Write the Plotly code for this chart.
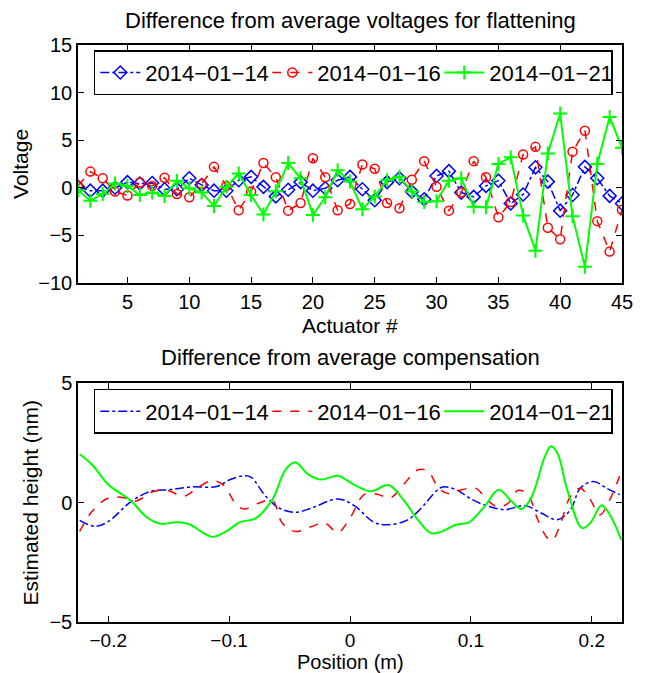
import plotly.graph_objects as go

# ---------------- data: top panel (voltages) ----------------
actuators = list(range(1, 46))
v_0114 = [0.1, -0.3, -0.3, 0.0, 0.6, 0.45, 0.5, -0.15, -0.15, 1.0,
          0.3, -0.3, -0.3, 0.8, 1.15, 0.1, -0.9, -0.2, 0.6, -0.3,
          -0.05, 0.8, 1.15, -0.15, -1.3, 0.6, 1.0, -0.4, -1.2, 1.25,
          1.75, -0.5, -0.95, 0.2, 0.75, -1.65, -0.7, 2.15, 0.65, -2.4,
          -0.75, 2.2, 1.0, -0.85, -1.65]
v_0116 = [0.2, 1.7, 1.0, -0.4, -0.8, 0.55, 0.2, 1.05, -0.65, -1.0,
          0.4, 2.2, 0.2, -2.35, -0.4, 2.6, 1.1, -2.4, -1.6, 3.1,
          1.1, -2.35, -1.7, 2.45, 2.0, -1.6, -2.15, 0.85, 2.8, 0.1,
          -2.4, -0.5, 2.8, 1.1, -3.1, -1.5, 3.5, 4.3, -4.2, -5.4,
          3.8, 6.0, -3.5, -6.7, -2.3]
v_0121 = [-0.25, -1.35, -0.65, 0.45, 0.2, -0.75, -0.5, -0.85, 0.75, -0.05,
          -0.5, -1.9, 0.1, 1.5, -0.75, -2.8, -0.35, 2.6, 1.0, -2.85,
          -1.0, 1.85, 0.65, -2.25, -0.9, 0.8, 1.15, -0.4, -1.5, -1.4,
          0.75, 1.0, -2.0, -2.05, 2.5, 3.2, -2.9, -6.6, 3.6, 7.8,
          -3.0, -8.3, 2.5, 7.45, 4.2]

# ---------------- data: bottom panel (compensation) ----------------
pos_0114 = [-0.2236, -0.2106, -0.1998, -0.1808, -0.1646, -0.1484, -0.1321, -0.1104,
            -0.0995, -0.0873, -0.0819, -0.0697, -0.0588, -0.0453, -0.0317, -0.01,
            0.0035, 0.0198, 0.0306, 0.0469, 0.0577, 0.0712, 0.0767, 0.0875,
            0.1011, 0.1146, 0.1282, 0.1445, 0.1581, 0.1716, 0.1824, 0.1905,
            0.2014, 0.2122, 0.223]
h_0114 = [-0.75, -1.0, -0.79, 0.05, 0.47, 0.54, 0.65, 0.67,
          0.95, 1.12, 1.06, 0.26, -0.23, -0.41, -0.23, 0.15,
          -0.13, -0.83, -0.93, -0.75, -0.3, 0.47, 0.65, 0.54,
          0.12, -0.16, -0.3, -0.13, -0.44, -0.72, -0.3, 0.6,
          0.88, 0.6, 0.33]
pos_0116 = [-0.2236, -0.2133, -0.1998, -0.1862, -0.178, -0.1618, -0.151, -0.1374,
            -0.1266, -0.1144, -0.1049, -0.094, -0.0873, -0.0751, -0.0642, -0.0561,
            -0.0453, -0.0317, -0.0209, -0.01, 0.0008, 0.0116, 0.0225, 0.0333,
            0.0441, 0.0563, 0.0645, 0.0739, 0.082, 0.0929, 0.1038, 0.1146,
            0.1228, 0.131, 0.1391, 0.1472, 0.1553, 0.1634, 0.1675, 0.1743,
            0.1824, 0.1905, 0.1987, 0.2068, 0.2149, 0.223]
h_0116 = [-1.21, -0.37, 0.19, 0.19, 0.05, 0.47, 0.51, 0.26,
          0.6, 0.91, 0.74, -0.09, -0.27, -0.02, 0.09, -0.86,
          -1.21, -1.0, -0.86, -1.25, -0.58, 0.33, 0.35, 0.19,
          0.74, 1.37, 1.31, 0.56, 0.37, 0.54, 0.6, 0.05,
          -0.19, -0.02, 0.51, 0.33, -0.72, -1.49, -1.58, -0.86,
          0.26, 0.6, 0.12, -0.51, 0.12, 1.1]
pos_0121 = [-0.2236, -0.2133, -0.1998, -0.1862, -0.1808, -0.1673, -0.1564, -0.143,
            -0.132, -0.1212, -0.1136, -0.1022, -0.0914, -0.0778, -0.0642, -0.0534,
            -0.0453, -0.0344, -0.0236, -0.01, 0.0035, 0.0171, 0.0319, 0.0441,
            0.055, 0.0671, 0.0766, 0.0875, 0.0984, 0.1119, 0.1228, 0.1336,
            0.1417, 0.1499, 0.1607, 0.1661, 0.1715, 0.1797, 0.1919, 0.1987,
            0.2081, 0.2149, 0.2244]
h_0121 = [2.02, 1.58, 0.74, 0.26, 0.05, -0.65, -0.89, -0.83,
          -0.93, -1.28, -1.44, -1.2, -0.83, -0.65, 0.12, 1.37,
          1.68, 1.17, 0.96, 1.12, 0.74, 0.47, 0.73, 0.12,
          -0.65, -1.28, -1.2, -0.93, -0.83, -0.13, 0.53, 0.05,
          -0.27, 0.19, 1.86, 2.35, 2.07, 0.53, -1.07, -0.86,
          -0.12, -0.51, -1.56]

names = ["2014\u221201\u221214", "2014\u221201\u221216", "2014\u221201\u221221"]
BLUE, RED, GREEN = "#0000ff", "#ff0000", "#00ff00"
FONT = "Liberation Sans, Arial, Helvetica, sans-serif"
FS = 22      # titles / legend
FS_TICK = 20
FS_LAB = 21

fig = go.Figure()

# top panel
fig.add_trace(go.Scatter(x=actuators, y=v_0114, name=names[0], mode="lines+markers",
                         line=dict(color=BLUE, width=1.5, dash="dashdot"),
                         marker=dict(symbol="diamond-open", size=10, color=BLUE, line=dict(width=1.5)),
                         xaxis="x", yaxis="y", legend="legend"))
fig.add_trace(go.Scatter(x=actuators, y=v_0116, name=names[1], mode="lines+markers",
                         line=dict(color=RED, width=1.5, dash="dash"),
                         marker=dict(symbol="circle-open", size=9, color=RED, line=dict(width=1.5)),
                         xaxis="x", yaxis="y", legend="legend"))
fig.add_trace(go.Scatter(x=actuators, y=v_0121, name=names[2], mode="lines+markers",
                         line=dict(color=GREEN, width=2),
                         marker=dict(symbol="cross-thin-open", size=10, color=GREEN, line=dict(width=2, color=GREEN)),
                         xaxis="x", yaxis="y", legend="legend"))

# bottom panel
fig.add_trace(go.Scatter(x=pos_0114, y=h_0114, name=names[0], mode="lines",
                         line=dict(color=BLUE, width=1.5, dash="dashdot", shape="spline", smoothing=1.0),
                         xaxis="x2", yaxis="y2", legend="legend2"))
fig.add_trace(go.Scatter(x=pos_0116, y=h_0116, name=names[1], mode="lines",
                         line=dict(color=RED, width=1.5, dash="dash", shape="spline", smoothing=1.0),
                         xaxis="x2", yaxis="y2", legend="legend2"))
fig.add_trace(go.Scatter(x=pos_0121, y=h_0121, name=names[2], mode="lines",
                         line=dict(color=GREEN, width=2, shape="spline", smoothing=1.0),
                         xaxis="x2", yaxis="y2", legend="legend2"))

def axis_common(tick_size):
    return dict(showline=True, linecolor="black", linewidth=1.5, mirror="ticks",
                ticks="inside", ticklen=6, tickcolor="black", tickwidth=1,
                showgrid=False, zeroline=False,
                tickfont=dict(family=FONT, size=tick_size, color="black"))

legend_common = dict(orientation="h", bgcolor="white", bordercolor="black", borderwidth=1.5,
                     font=dict(family=FONT, size=FS, color="black"),
                     xanchor="left", yanchor="top", entrywidth=117, entrywidthmode="pixels",
                     itemwidth=40, tracegroupgap=0)

def txt(size):
    return dict(xref="paper", yref="paper", showarrow=False, xanchor="center", yanchor="middle",
                font=dict(family=FONT, size=size, color="black"))

fig.update_layout(
    width=637, height=665, autosize=False,
    margin=dict(l=70, r=13, t=37, b=51),
    paper_bgcolor="white", plot_bgcolor="white",
    showlegend=True,
    xaxis=dict(domain=[0, 1], range=[1, 45], tickvals=[5, 10, 15, 20, 25, 30, 35, 40, 45],
               anchor="y", **axis_common(FS_TICK)),
    yaxis=dict(domain=[0.5875, 1], range=[-10, 15], tickvals=[-10, -5, 0, 5, 10, 15],
               anchor="x", **axis_common(FS_TICK)),
    xaxis2=dict(domain=[0, 1], range=[-0.225, 0.225], tickvals=[-0.2, -0.1, 0, 0.1, 0.2],
                anchor="y2", **axis_common(19)),
    yaxis2=dict(domain=[0, 0.4142], range=[-5, 5], tickvals=[-5, 0, 5],
                anchor="x2", **axis_common(FS_TICK)),
    legend=dict(x=0.029, y=0.991, **legend_common),
    legend2=dict(x=0.029, y=0.404, **legend_common),
    annotations=[
        dict(text="Difference from average voltages for flattening", x=0.5, y=1.043, **txt(FS)),
        dict(text="Difference from average compensation", x=0.5, y=0.459, **txt(FS)),
        dict(text="Actuator #", x=0.5, y=0.5145, **txt(FS_LAB)),
        dict(text="Position (m)", x=0.5, y=-0.0695, **txt(20)),
        dict(text="Voltage", x=-0.1047, y=0.794, textangle=-90, **txt(FS_LAB)),
        dict(text="Estimated height (nm)", x=-0.0866, y=0.207, textangle=-90, **txt(FS_LAB)),
    ],
)

fig.write_html("out.html")
